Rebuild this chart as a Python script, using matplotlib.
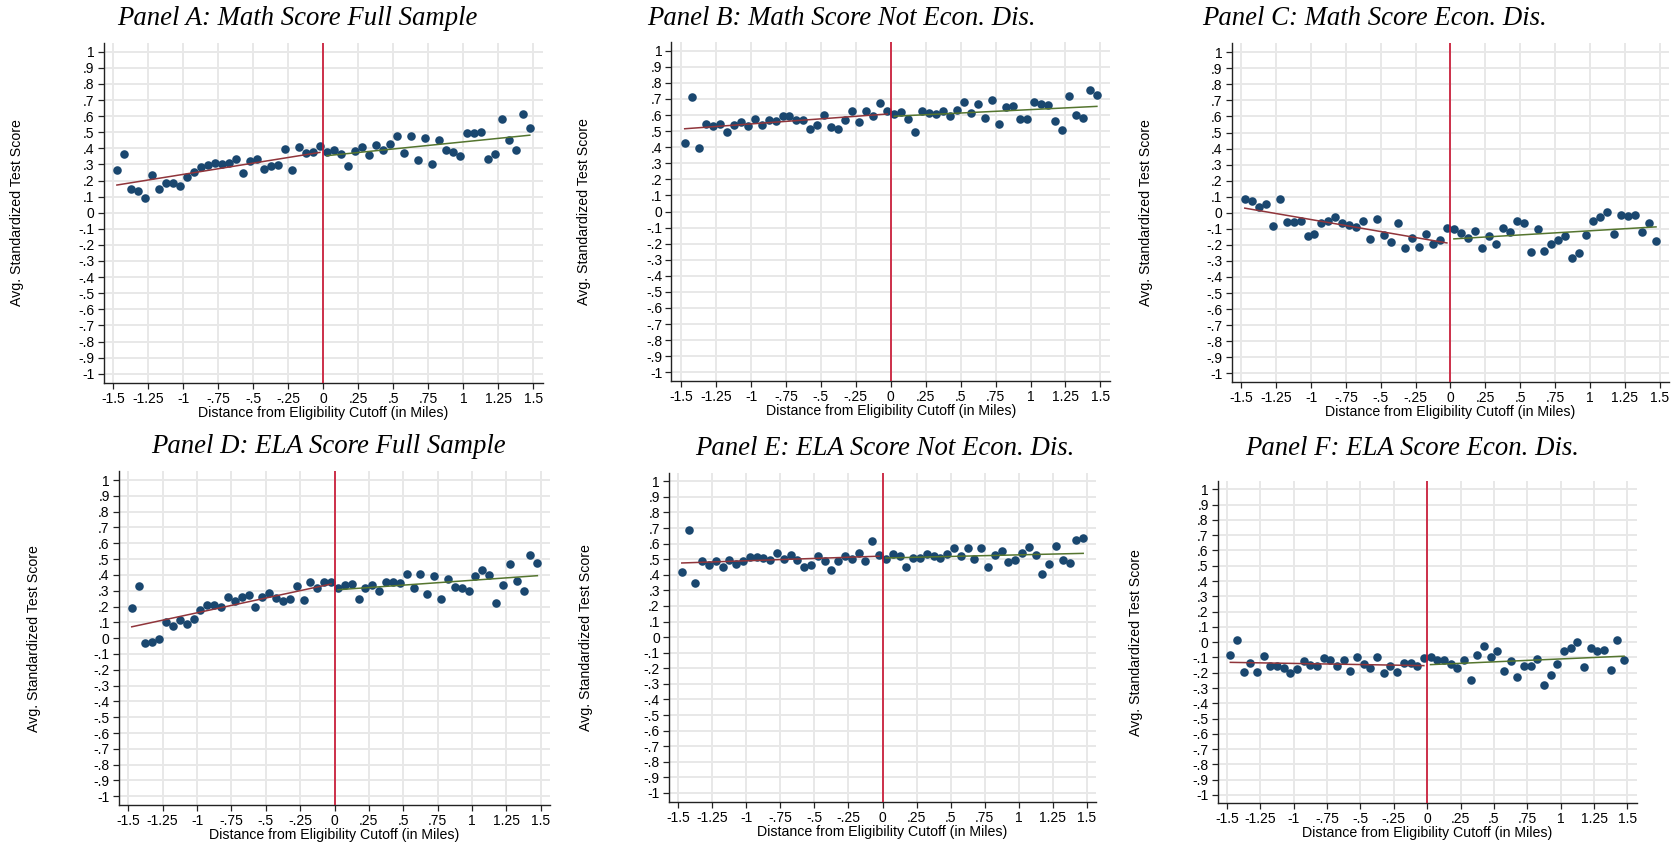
import numpy as np
import matplotlib
matplotlib.use('Agg')
import matplotlib.pyplot as plt

# bin centres (distance from cutoff, miles)
x_left = [-1.475, -1.425, -1.375, -1.325, -1.275, -1.225, -1.175, -1.125, -1.075, -1.025,
          -0.975, -0.925, -0.875, -0.825, -0.775, -0.725, -0.675, -0.625, -0.575, -0.525,
          -0.475, -0.425, -0.375, -0.325, -0.275, -0.225, -0.175, -0.125, -0.075, -0.025]
x_right = [0.025, 0.075, 0.125, 0.175, 0.225, 0.275, 0.325, 0.375, 0.425, 0.475,
           0.525, 0.575, 0.625, 0.675, 0.725, 0.775, 0.825, 0.875, 0.925, 0.975,
           1.025, 1.075, 1.125, 1.175, 1.225, 1.275, 1.325, 1.375, 1.425, 1.475]

# Panel A: Math, full sample
math_full_left = [0.267, 0.364, 0.145, 0.137, 0.089, 0.232, 0.147, 0.184, 0.184, 0.166,
                  0.222, 0.250, 0.282, 0.294, 0.306, 0.302, 0.310, 0.333, 0.244, 0.323,
                  0.333, 0.271, 0.290, 0.294, 0.393, 0.263, 0.408, 0.368, 0.379, 0.414]
math_full_right = [0.379, 0.387, 0.366, 0.288, 0.383, 0.406, 0.360, 0.418, 0.387, 0.426,
                   0.476, 0.368, 0.478, 0.329, 0.464, 0.300, 0.453, 0.391, 0.375, 0.352,
                   0.495, 0.495, 0.503, 0.333, 0.364, 0.580, 0.449, 0.391, 0.611, 0.528]

# Panel B: Math, not econ. disadvantaged
math_ned_left = [0.429, 0.709, 0.398, 0.547, 0.531, 0.547, 0.497, 0.535, 0.555, 0.531,
                 0.576, 0.539, 0.566, 0.562, 0.593, 0.597, 0.572, 0.572, 0.516, 0.535,
                 0.599, 0.526, 0.514, 0.572, 0.622, 0.558, 0.622, 0.593, 0.676, 0.624]
math_ned_right = [0.605, 0.620, 0.578, 0.497, 0.626, 0.613, 0.609, 0.624, 0.597, 0.632,
                  0.680, 0.613, 0.667, 0.584, 0.692, 0.543, 0.651, 0.653, 0.576, 0.576,
                  0.678, 0.669, 0.661, 0.560, 0.506, 0.717, 0.603, 0.584, 0.754, 0.725]

# Panel C: Math, econ. disadvantaged
math_ed_left = [0.085, 0.071, 0.037, 0.054, -0.081, 0.085, -0.058, -0.058, -0.052, -0.143,
                -0.131, -0.066, -0.052, -0.027, -0.064, -0.079, -0.091, -0.050, -0.166, -0.037,
                -0.137, -0.181, -0.062, -0.218, -0.154, -0.212, -0.129, -0.197, -0.172, -0.096]
math_ed_right = [-0.102, -0.123, -0.154, -0.112, -0.218, -0.143, -0.195, -0.093, -0.120, -0.050,
                 -0.062, -0.245, -0.100, -0.237, -0.197, -0.172, -0.145, -0.280, -0.249, -0.141,
                 -0.054, -0.027, 0.004, -0.135, -0.015, -0.017, -0.015, -0.118, -0.064, -0.174]

# Panel D: ELA, full sample
ela_full_left = [0.188, 0.329, -0.030, -0.023, -0.006, 0.101, 0.076, 0.116, 0.089, 0.118,
                 0.175, 0.211, 0.211, 0.200, 0.263, 0.236, 0.263, 0.272, 0.200, 0.263,
                 0.285, 0.255, 0.232, 0.247, 0.327, 0.240, 0.352, 0.314, 0.354, 0.352]
ela_full_right = [0.314, 0.337, 0.341, 0.249, 0.320, 0.339, 0.299, 0.352, 0.358, 0.346,
                  0.405, 0.320, 0.405, 0.282, 0.392, 0.247, 0.371, 0.322, 0.316, 0.301,
                  0.392, 0.430, 0.400, 0.221, 0.335, 0.468, 0.362, 0.297, 0.523, 0.474]

# Panel E: ELA, not econ. disadvantaged
ela_ned_left = [0.419, 0.689, 0.347, 0.486, 0.466, 0.488, 0.451, 0.492, 0.468, 0.490,
                0.516, 0.516, 0.507, 0.496, 0.537, 0.500, 0.526, 0.498, 0.447, 0.466,
                0.522, 0.486, 0.434, 0.488, 0.522, 0.500, 0.541, 0.490, 0.614, 0.528]
ela_ned_right = [0.503, 0.533, 0.522, 0.447, 0.511, 0.507, 0.535, 0.518, 0.511, 0.533,
                 0.573, 0.520, 0.571, 0.503, 0.575, 0.449, 0.526, 0.552, 0.481, 0.496,
                 0.537, 0.580, 0.524, 0.402, 0.468, 0.586, 0.494, 0.475, 0.622, 0.633]

# Panel F: ELA, econ. disadvantaged
ela_ed_left = [-0.087, 0.011, -0.198, -0.137, -0.198, -0.092, -0.159, -0.155, -0.172, -0.205,
               -0.177, -0.126, -0.150, -0.159, -0.105, -0.120, -0.159, -0.116, -0.188, -0.094,
               -0.146, -0.168, -0.098, -0.205, -0.159, -0.194, -0.137, -0.135, -0.153, -0.105]
ela_ed_right = [-0.096, -0.116, -0.118, -0.144, -0.170, -0.118, -0.246, -0.081, -0.026, -0.094,
                -0.061, -0.190, -0.126, -0.229, -0.153, -0.157, -0.113, -0.281, -0.216, -0.144,
                -0.061, -0.037, 0.002, -0.164, -0.041, -0.057, -0.052, -0.185, 0.011, -0.118]

titles = ["Panel A: Math Score Full Sample", "Panel B: Math Score Not Econ. Dis.",
          "Panel C: Math Score Econ. Dis.", "Panel D: ELA Score Full Sample",
          "Panel E: ELA Score Not Econ. Dis.", "Panel F: ELA Score Econ. Dis."]
panel_data = [(math_full_left, math_full_right), (math_ned_left, math_ned_right),
              (math_ed_left, math_ed_right), (ela_full_left, ela_full_right),
              (ela_ned_left, ela_ned_right), (ela_ed_left, ela_ed_right)]

xticks = [-1.5, -1.25, -1, -0.75, -0.5, -0.25, 0, 0.25, 0.5, 0.75, 1, 1.25, 1.5]
xtick_labels = ["-1.5", "-1.25", "-1", "-.75", "-.5", "-.25", "0", ".25", ".5", ".75", "1", "1.25", "1.5"]
yticks = np.round(np.arange(-1, 1.01, 0.1), 1)
ytick_labels = ["-1", "-.9", "-.8", "-.7", "-.6", "-.5", "-.4", "-.3", "-.2", "-.1", "0",
                ".1", ".2", ".3", ".4", ".5", ".6", ".7", ".8", ".9", "1"]

# layout in pixels: position of x=-1.5, x=1.5, y=1, y=-1 for each panel
W, H = 1679, 843
anchors = [(113.4, 533.3, 51.7, 373.7), (681.2, 1100.4, 50.7, 372.3), (1241.3, 1659.5, 52.3, 373.3),
           (128.3, 540.8, 480.0, 796.3), (678.4, 1086.6, 481.3, 793.0), (1227.0, 1627.4, 489.3, 795.0)]
title_pos = [(297.7, 18.3), (841.6, 18.3), (1375.0, 18.3), (328.7, 446.7), (885.0, 448.3), (1412.0, 448.3)]
ylabel_x = [17.1, 584.2, 1145.7, 33.9, 585.7, 1136.1]
XPAD, YPAD = 0.07, 0.055

plt.rcParams['font.family'] = ['Liberation Sans', 'DejaVu Sans']
fig = plt.figure(figsize=(W / 100, H / 100), dpi=100)

for i in range(6):
    xa, xb, ya, yb = anchors[i]
    pxu = (xb - xa) / 3.0
    pyu = (yb - ya) / 2.0
    left = xa - XPAD * pxu
    right = xb + XPAD * pxu
    top = ya - YPAD * pyu
    bottom = yb + YPAD * pyu
    ax = fig.add_axes([left / W, 1 - bottom / H, (right - left) / W, (bottom - top) / H])
    ax.set_xlim(-1.5 - XPAD, 1.5 + XPAD)
    ax.set_ylim(-1 - YPAD, 1 + YPAD)

    yl, yr = panel_data[i]
    ax.scatter(x_left + x_right, yl + yr, s=38, color='#1a476f', zorder=3, linewidths=0)
    # linear fits on each side of the cutoff
    bl = np.polyfit(x_left, yl, 1)
    br = np.polyfit(x_right, yr, 1)
    ax.plot([x_left[0], x_left[-1]], np.polyval(bl, [x_left[0], x_left[-1]]), color='#90353b', lw=1.1, zorder=4)
    ax.plot([x_right[0], x_right[-1]], np.polyval(br, [x_right[0], x_right[-1]]), color='#55752f', lw=1.1, zorder=4)
    ax.axvline(0, color='#c8102e', lw=1.2, zorder=5)

    ax.set_xticks(xticks)
    ax.set_xticklabels(xtick_labels)
    ax.set_yticks(yticks)
    ax.set_yticklabels(ytick_labels)
    ax.tick_params(axis='both', labelsize=10, length=4, width=0.9, color='#222222', pad=2.5)
    ax.grid(True, color='#e8e8e8', lw=1.4, zorder=0)
    ax.set_axisbelow(True)
    for s in ['top', 'right']:
        ax.spines[s].set_visible(False)
    for s in ['left', 'bottom']:
        ax.spines[s].set_color('#222222')
        ax.spines[s].set_linewidth(1.0)

    ax.set_xlabel("Distance from Eligibility Cutoff (in Miles)", fontsize=10.2, labelpad=0)
    ax.set_ylabel("Avg. Standardized Test Score", fontsize=10.2)
    ax.yaxis.label.set_va('center')
    ax.yaxis.set_label_coords((ylabel_x[i] - left) / (right - left), 0.5)

    tx, ty = title_pos[i]
    fig.text(tx / W, 1 - ty / H, titles[i], ha='center', va='center', fontsize=19.3,
             style='italic', family=['Liberation Serif', 'DejaVu Serif'])

fig.savefig('out.png', dpi=100, facecolor='white')
